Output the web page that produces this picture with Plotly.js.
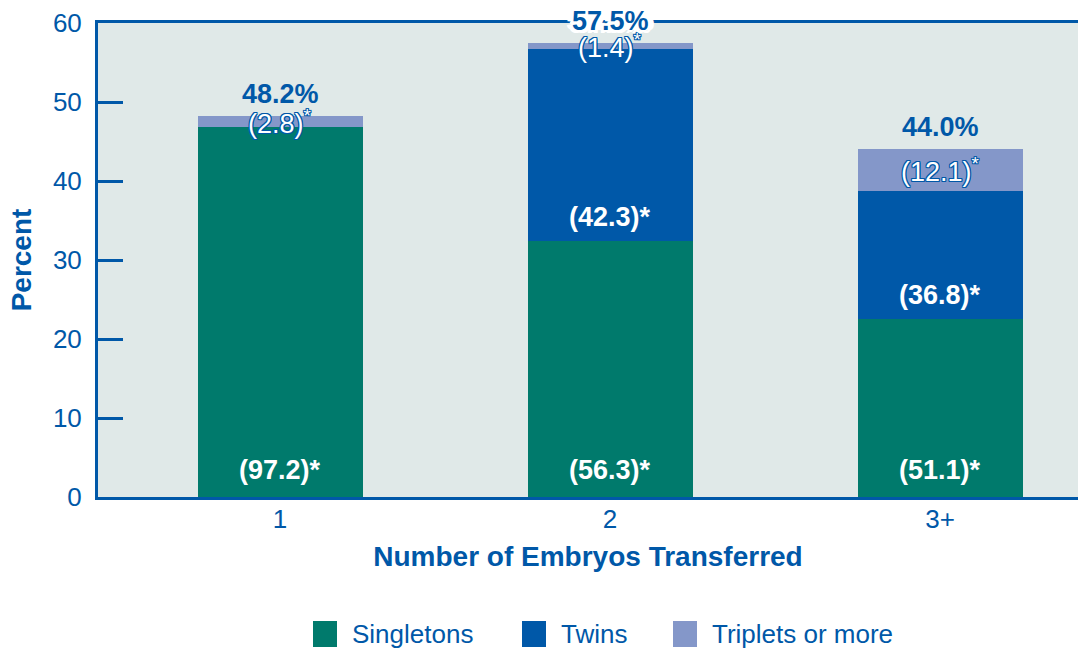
<!DOCTYPE html>
<html>
<head>
<meta charset="utf-8">
<script src="https://cdn.plot.ly/plotly-3.0.1.min.js"></script>
<style>
  html, body { margin: 0; padding: 0; background: #ffffff; }
  #chart { width: 1078px; height: 652px; }
</style>
</head>
<body>
<div id="chart"></div>
<script>
// ---- data ----
const categories = ['1', '2', '3+'];
const singletons = [46.85, 32.4, 22.5];
const twins = [null, 24.3, 16.2];
const triplets = [1.35, 0.8, 5.3];
const totalLabels = ['48.2%', '57.5%', '44.0%'];
const singletonShare = ['(97.2)*', '(56.3)*', '(51.1)*'];
const twinShare = [null, '(42.3)*', '(36.8)*'];
const tripletShare = ['(2.8)', '(1.4)', '(12.1)'];
const seriesNames = ['Singletons', 'Twins', 'Triplets or more'];
const yTicks = [0, 10, 20, 30, 40, 50, 60];

// ---- style ----
const BLUE = '#0058a8';
const GREEN = '#007a6c';
const LIGHT = '#8497c9';
const BG = '#e0e9e8';
const FONT = 'Liberation Sans, Arial, Helvetica, sans-serif';
const colors = [GREEN, BLUE, LIGHT];

const traces = [singletons, twins, triplets].map((vals, i) => ({
  type: 'bar',
  x: categories,
  y: vals,
  name: seriesNames[i],
  marker: { color: colors[i], line: { width: 0 } },
  width: 0.5,
  hoverinfo: 'skip',
  showlegend: false
}));

const annotations = [];
const outline = '1px 0 0 ' + BLUE + ', -1px 0 0 ' + BLUE + ', 0 1px 0 ' + BLUE + ', 0 -1px 0 ' + BLUE +
  ', 1px 1px 0 ' + BLUE + ', -1px -1px 0 ' + BLUE + ', 1px -1px 0 ' + BLUE + ', -1px 1px 0 ' + BLUE;
const whiteOutline = '2px 0 0 #fff, -2px 0 0 #fff, 4px 0 0 #fff, -4px 0 0 #fff, 6px 0 0 #fff, -6px 0 0 #fff, ' +
  '0 2px 0 #fff, 0 -2px 0 #fff, 3px 3px 0 #fff, -3px -3px 0 #fff, 3px -3px 0 #fff, -3px 3px 0 #fff';

categories.forEach((c, i) => {
  const s = singletons[i] || 0, t = twins[i] || 0, p = triplets[i] || 0;
  const total = s + t + p;
  // category axis: annotation x given as category index
  annotations.push({
    x: i, y: 3.4, xref: 'x', yref: 'y', text: singletonShare[i], showarrow: false,
    font: { family: FONT, size: 27, color: '#ffffff', weight: 'bold' }, yanchor: 'middle'
  });
  if (twinShare[i]) {
    annotations.push({
      x: i, y: s + 3.1, xref: 'x', yref: 'y', text: twinShare[i], showarrow: false,
      font: { family: FONT, size: 27, color: '#ffffff', weight: 'bold' }, yanchor: 'middle'
    });
  }
  annotations.push({
    x: i, y: s + t + p / 2, xref: 'x', yref: 'y', text: tripletShare[i] + '<sup>*</sup>', showarrow: false,
    font: { family: FONT, size: 27, color: '#ffffff', shadow: outline }, yanchor: 'middle'
  });
  const nearTop = total > 55;
  annotations.push({
    x: i, y: total, xref: 'x', yref: 'y', yshift: 22, text: totalLabels[i], showarrow: false,
    font: { family: FONT, size: 27, color: BLUE, weight: 'bold', shadow: nearTop ? whiteOutline : 'none' },
    yanchor: 'middle'
  });
});

// custom legend (large square swatches)
const legendSquares = [313, 522, 673];
const shapes = [];
seriesNames.forEach((n, i) => {
  const x0 = (legendSquares[i] - 98) / 980;
  const x1 = (legendSquares[i] + 24 - 98) / 980;
  shapes.push({
    type: 'rect', xref: 'paper', yref: 'paper', x0: x0, x1: x1,
    y0: (497 - 647) / 474, y1: (497 - 621) / 474,
    fillcolor: colors[i], line: { width: 0 }
  });
  annotations.push({
    xref: 'paper', yref: 'paper', x: (legendSquares[i] + 37 - 98) / 980, y: (497 - 634) / 474,
    xanchor: 'left', yanchor: 'middle', text: n, showarrow: false,
    font: { family: FONT, size: 26, color: BLUE }
  });
});

const layout = {
  width: 1078, height: 652,
  margin: { l: 98, r: 0, t: 23, b: 155, pad: 0 },
  paper_bgcolor: '#ffffff',
  plot_bgcolor: BG,
  barmode: 'stack',
  bargap: 0.5,
  showlegend: false,
  font: { family: FONT, color: BLUE },
  xaxis: {
    type: 'category',
    categoryorder: 'array', categoryarray: categories,
    range: [-0.5515, 2.418],
    showgrid: false, zeroline: false,
    showline: true, linecolor: BLUE, linewidth: 3, mirror: true,
    ticks: '',
    ticklabelstandoff: -3,
    tickfont: { family: FONT, size: 26, color: BLUE },
    title: { text: 'Number of Embryos Transferred', font: { family: FONT, size: 28, color: BLUE, weight: 'bold' }, standoff: 14 },
    fixedrange: true
  },
  yaxis: {
    range: [0, 60],
    tickvals: yTicks,
    ticktext: yTicks.map(String),
    showgrid: false, zeroline: false,
    showline: true, linecolor: BLUE, linewidth: 3,
    ticks: 'inside', ticklen: 25, tickwidth: 3, tickcolor: BLUE,
    ticklabelstandoff: 8,
    tickfont: { family: FONT, size: 26, color: BLUE },
    title: { text: 'Percent', font: { family: FONT, size: 28, color: BLUE, weight: 'bold' }, standoff: 14 },
    fixedrange: true
  },
  shapes: shapes,
  annotations: annotations
};

Plotly.newPlot('chart', traces, layout, { displayModeBar: false, staticPlot: true });
</script>
</body>
</html>
